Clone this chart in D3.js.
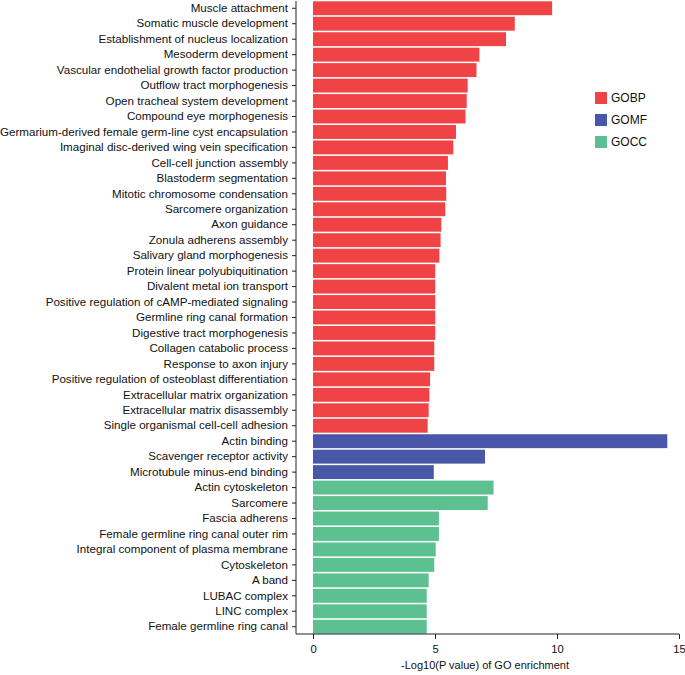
<!DOCTYPE html>
<html>
<head>
<meta charset="utf-8">
<script src="https://cdn.jsdelivr.net/npm/d3@7"></script>
<style>
  html, body { margin: 0; padding: 0; background: #fff; }
  svg { display: block; font-family: "Liberation Sans", Arial, Helvetica, sans-serif; }
</style>
</head>
<body>
<svg id="chart" width="685" height="675"></svg>
<script>
const categories = [
  "Muscle attachment",
  "Somatic muscle development",
  "Establishment of nucleus localization",
  "Mesoderm development",
  "Vascular endothelial growth factor production",
  "Outflow tract morphogenesis",
  "Open tracheal system development",
  "Compound eye morphogenesis",
  "Germarium-derived female germ-line cyst encapsulation",
  "Imaginal disc-derived wing vein specification",
  "Cell-cell junction assembly",
  "Blastoderm segmentation",
  "Mitotic chromosome condensation",
  "Sarcomere organization",
  "Axon guidance",
  "Zonula adherens assembly",
  "Salivary gland morphogenesis",
  "Protein linear polyubiquitination",
  "Divalent metal ion transport",
  "Positive regulation of cAMP-mediated signaling",
  "Germline ring canal formation",
  "Digestive tract morphogenesis",
  "Collagen catabolic process",
  "Response to axon injury",
  "Positive regulation of osteoblast differentiation",
  "Extracellular matrix organization",
  "Extracellular matrix disassembly",
  "Single organismal cell-cell adhesion",
  "Actin binding",
  "Scavenger receptor activity",
  "Microtubule minus-end binding",
  "Actin cytoskeleton",
  "Sarcomere",
  "Fascia adherens",
  "Female germline ring canal outer rim",
  "Integral component of plasma membrane",
  "Cytoskeleton",
  "A band",
  "LUBAC complex",
  "LINC complex",
  "Female germline ring canal"
];
const values = [
  9.80, 8.27, 7.91, 6.82, 6.70, 6.34, 6.30, 6.25, 5.86, 5.75,
  5.53, 5.45, 5.46, 5.42, 5.26, 5.23, 5.18, 5.01, 5.01, 5.01,
  5.01, 5.01, 4.97, 4.97, 4.80, 4.77, 4.74, 4.70,
  14.52, 7.05, 4.95,
  7.40, 7.16, 5.16, 5.16, 5.03, 4.97, 4.74, 4.66, 4.66, 4.66
];
const groups = [
  "GOBP","GOBP","GOBP","GOBP","GOBP","GOBP","GOBP","GOBP","GOBP","GOBP",
  "GOBP","GOBP","GOBP","GOBP","GOBP","GOBP","GOBP","GOBP","GOBP","GOBP",
  "GOBP","GOBP","GOBP","GOBP","GOBP","GOBP","GOBP","GOBP",
  "GOMF","GOMF","GOMF",
  "GOCC","GOCC","GOCC","GOCC","GOCC","GOCC","GOCC","GOCC","GOCC","GOCC"
];
const legendKeys = ["GOBP", "GOMF", "GOCC"];
const legendColors = ["#EF4346", "#4857A7", "#5DC091"];
const xTicks = [0, 5, 10, 15];
const xTitle = "-Log10(P value) of GO enrichment";

const data = categories.map((c, i) => ({ name: c, value: values[i], group: groups[i] }));

const svg = d3.select("#chart");
const yAxisX = 296;
const axisY = 634;
const fs = 11.6;

const x = d3.scaleLinear().domain([0, 15]).range([313, 679]);
const y = d3.scaleBand().domain(categories).range([1, 634]).paddingInner(0.1).paddingOuter(0.02);
const color = d3.scaleOrdinal().domain(legendKeys).range(legendColors);

// bars
svg.append("g").selectAll("rect").data(data).join("rect")
  .attr("x", x(0))
  .attr("y", d => y(d.name))
  .attr("width", d => x(d.value) - x(0))
  .attr("height", y.bandwidth())
  .attr("fill", d => color(d.group));

// y axis
const yAxis = svg.append("g")
  .attr("transform", `translate(${yAxisX},0)`)
  .call(d3.axisLeft(y).tickSize(4).tickSizeOuter(0).tickPadding(4));
yAxis.select(".domain").attr("d", `M0,${y.range()[0]}V${axisY}`).attr("stroke", "#222");
yAxis.selectAll(".tick line").attr("stroke", "#222");
yAxis.selectAll("text").attr("font-size", fs).attr("fill", "#111").attr("font-family", "Liberation Sans, Arial, sans-serif");

// x axis
const xAxis = svg.append("g")
  .attr("transform", `translate(0,${axisY})`)
  .call(d3.axisBottom(x).tickValues(xTicks).tickSize(5).tickSizeOuter(0).tickPadding(6));
xAxis.select(".domain").attr("d", `M${yAxisX},0H${x(15)}`).attr("stroke", "#222");
xAxis.selectAll(".tick line").attr("stroke", "#222");
xAxis.selectAll("text").attr("font-size", 11.2).attr("fill", "#111").attr("font-family", "Liberation Sans, Arial, sans-serif");

svg.append("text")
  .attr("x", 485)
  .attr("y", 669)
  .attr("text-anchor", "middle")
  .attr("font-size", 11)
  .attr("fill", "#111")
  .text(xTitle);

// legend
const legend = svg.append("g").attr("transform", "translate(595,92)");
const li = legend.selectAll("g").data(legendKeys).join("g")
  .attr("transform", (d, i) => `translate(0,${i * 22})`);
li.append("rect").attr("width", 12).attr("height", 12).attr("fill", d => color(d));
li.append("text").attr("x", 16).attr("y", 6).attr("dy", "0.35em")
  .attr("font-size", 12).attr("fill", "#111").text(d => d);
</script>
</body>
</html>
